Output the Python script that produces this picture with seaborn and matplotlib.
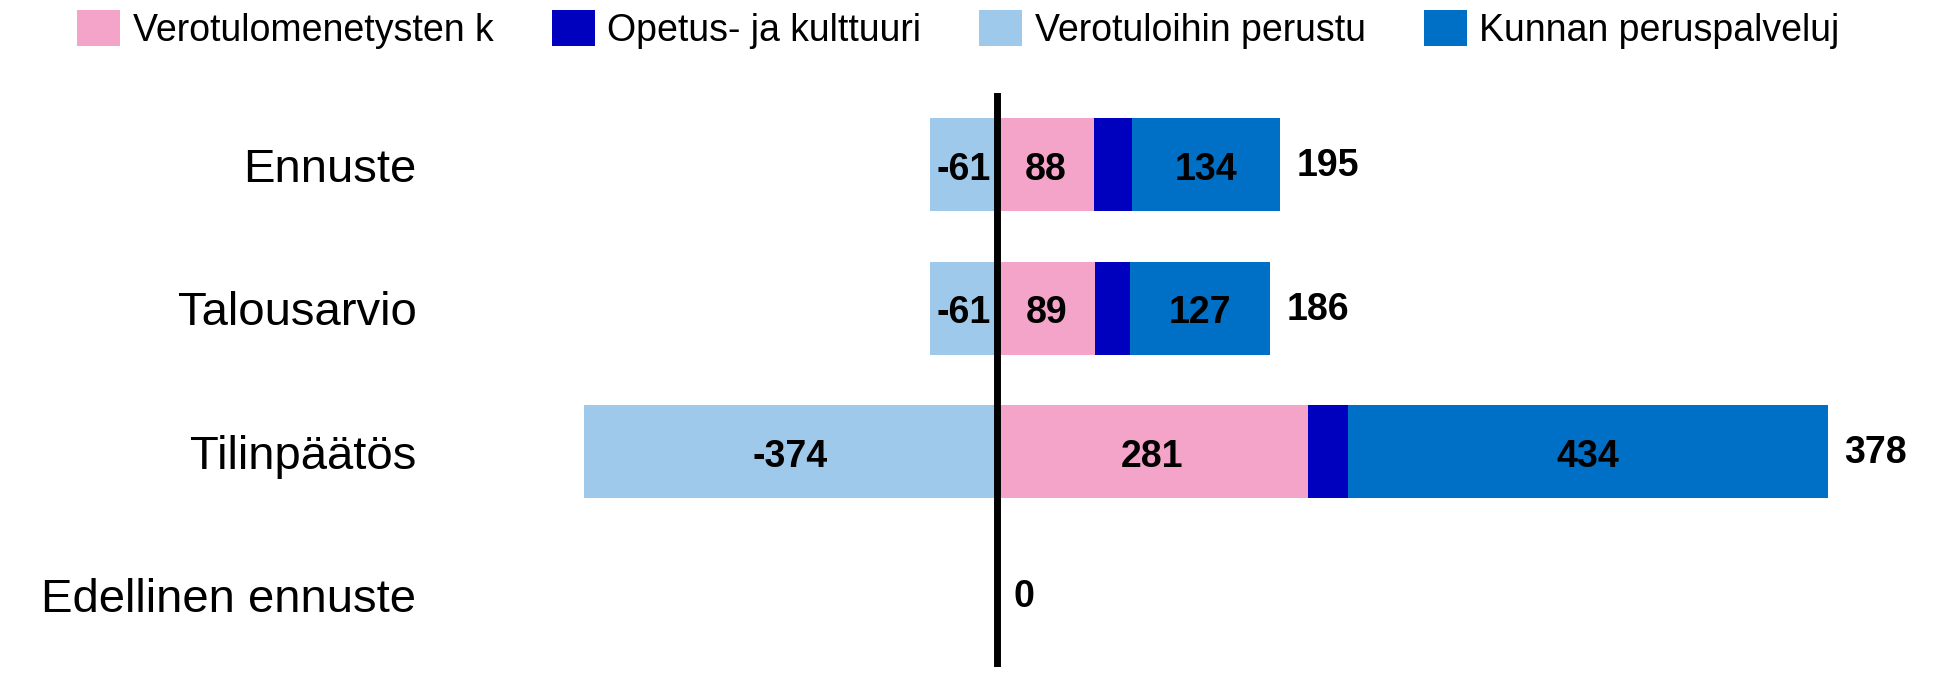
import matplotlib
matplotlib.use("Agg")
import matplotlib.pyplot as plt
import seaborn as sns
import pandas as pd
import numpy as np
from matplotlib.patches import Patch

sns.set_theme(style="white")
plt.rcParams['font.family'] = ['Liberation Sans', 'DejaVu Sans']

categories = ["Ennuste", "Talousarvio", "Tilinpäätös", "Edellinen ennuste"]
series_names = ["Verotulomenetysten k", "Opetus- ja kulttuuri", "Verotuloihin perustu", "Kunnan peruspalveluj"]
verotulomenetysten = [88, 89, 281, 0]
opetus = [34, 31, 37, 0]
verotuloihin = [-61, -61, -374, 0]
kunnan = [134, 127, 434, 0]
totals = [195, 186, 378, 0]
colors = ["#F4A4C8", "#0000BF", "#9FC9EA", "#0070C6"]

fig = plt.figure(figsize=(19.48, 6.83), dpi=100)
W, H = 1948, 683
L, R = 440, 1920
top_px, bot_px = 93, 667
ax = fig.add_axes([L / W, (H - bot_px) / H, (R - L) / W, (bot_px - top_px) / H])

pos1 = np.array(verotulomenetysten)
pos2 = pos1 + np.array(opetus)
pos3 = pos2 + np.array(kunnan)

df = pd.DataFrame({"cat": categories, "p1": pos1, "p2": pos2, "p3": pos3,
                   "neg": verotuloihin})
bw = 0.65
for col, c in [("p3", colors[3]), ("p2", colors[1]), ("p1", colors[0]), ("neg", colors[2])]:
    sns.barplot(data=df, y="cat", x=col, orient="h", color=c, width=bw,
                saturation=1, linewidth=0, ax=ax, order=categories)

zero_px = 997
scale = 1.105
ax.set_xlim(-(zero_px - L) / scale, (R - zero_px) / scale)
ax.set_ylim(3.5, -0.5)
ax.axvline(0, color="black", lw=5, zorder=5)

lab_kw = dict(ha="center", va="center", fontsize=27, fontweight="bold", color="black", zorder=6)
for i in range(len(categories)):
    yy = i + 0.035
    if verotulomenetysten[i] != 0:
        ax.text(verotulomenetysten[i] / 2, yy, f"{verotulomenetysten[i]}", **lab_kw)
    if kunnan[i] != 0:
        ax.text(pos2[i] + kunnan[i] / 2, yy, f"{kunnan[i]}", **lab_kw)
    if verotuloihin[i] != 0:
        ax.text(verotuloihin[i] / 2, yy, f"{verotuloihin[i]}", **lab_kw)
    ax.text(pos3[i] + 15, i + 0.01, f"{totals[i]}", ha="left", va="center",
            fontsize=27, fontweight="bold", color="black", zorder=6)

ax.set_xlabel("")
ax.set_ylabel("")
ax.set_xticks([])
ax.tick_params(axis="y", labelsize=34, pad=17, length=0, labelcolor="black")
for s in ax.spines.values():
    s.set_visible(False)

handles = [Patch(facecolor=c, edgecolor="none") for c in colors]
fig.legend(handles, series_names, loc="upper center", bbox_to_anchor=(0.492, 1.035),
           ncol=4, frameon=False, fontsize=27, handlelength=1.15, handleheight=1.1,
           handletextpad=0.33, columnspacing=1.55, labelcolor="black")

fig.savefig("out.png", dpi=100)
